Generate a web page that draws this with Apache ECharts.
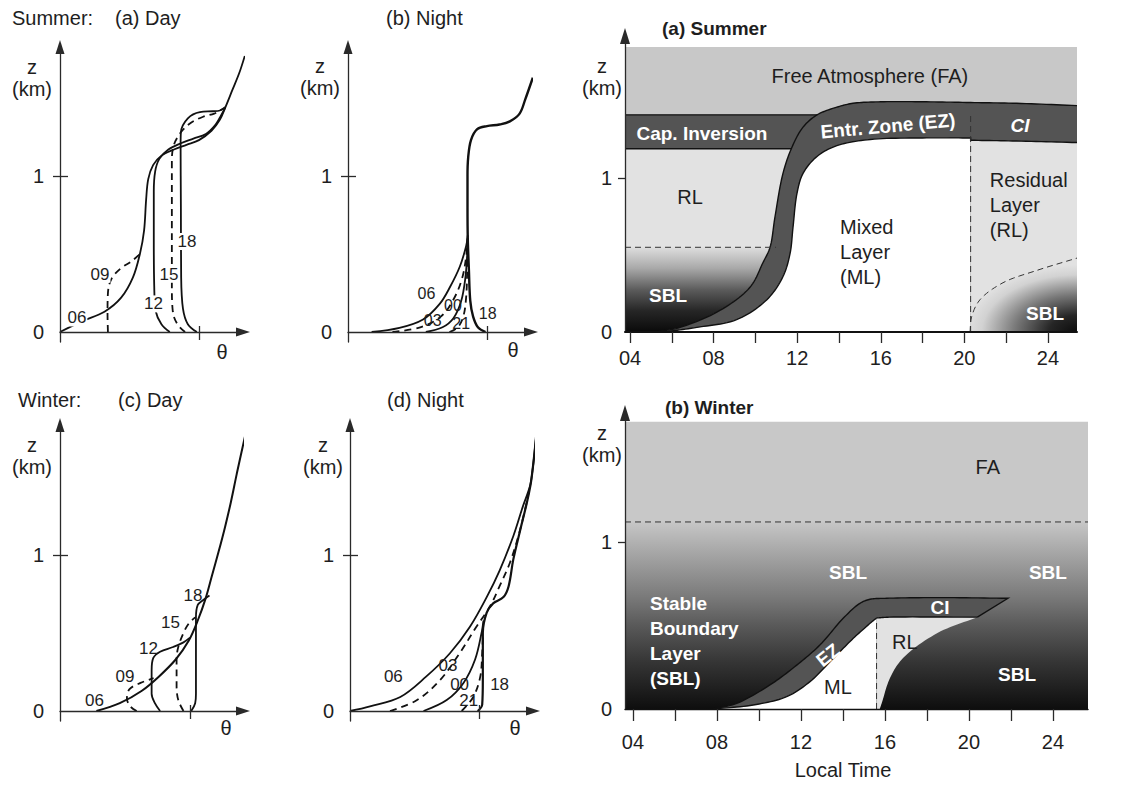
<!DOCTYPE html>
<html>
<head>
<meta charset="utf-8">
<title>Boundary layer evolution</title>
<script src="https://cdn.jsdelivr.net/npm/echarts@6/dist/echarts.min.js"></script>
<style>
  html, body { margin: 0; padding: 0; background: #ffffff; }
  #chart { width: 1128px; height: 792px; }
</style>
</head>
<body>
<div id="chart"></div>
<script>
// ---------------- data ----------------
// Potential-temperature profiles: [theta (arbitrary units, axis tick at 10), z (km)]
const sumDay06 = [[0,0],[1.6,0.07],[3.2,0.13],[4.4,0.22],[5.25,0.35],[5.75,0.5],[6.05,0.65],[6.2,0.85],[6.35,0.98],[6.7,1.07],[7.3,1.13],[8.2,1.17],[9.1,1.2],[10.0,1.23],[10.9,1.29],[11.5,1.36],[11.9,1.44],[12.4,1.55],[12.9,1.66],[13.3,1.77]];
const sumDay09 = [[3.45,0],[3.42,0.12],[3.45,0.25],[3.7,0.34],[4.4,0.41],[5.1,0.45],[5.75,0.5]];
const sumDay12 = [[7.9,0],[7.3,0.05],[6.9,0.13],[6.78,0.3],[6.75,0.6],[6.75,0.9],[6.85,1.03],[7.15,1.11],[7.8,1.17],[8.7,1.21],[9.6,1.24],[10.5,1.27],[11.2,1.33],[11.6,1.39],[11.9,1.44]];
const sumDay15 = [[9.0,0],[8.45,0.05],[8.12,0.13],[8.05,0.3],[8.05,0.7],[8.05,1.1],[8.2,1.2],[8.7,1.28],[9.4,1.34],[10.3,1.38],[11.1,1.4],[11.7,1.43],[11.9,1.44]];
const sumDay18 = [[9.85,0],[9.2,0.05],[8.85,0.15],[8.72,0.35],[8.7,0.8],[8.68,1.2],[8.7,1.28],[9.2,1.37],[10.07,1.41],[11.0,1.415],[11.5,1.42],[11.9,1.44]];
const sumDayLabels = [[1.22,0.09,'06'],[2.88,0.37,'09'],[6.73,0.18,'12'],[7.84,0.37,'15'],[9.14,0.58,'18']];

const sumNight18 = [[9.9,0],[9.35,0.03],[9.0,0.1],[8.8,0.2],[8.7,0.4],[8.62,0.6],[8.6,0.8],[8.6,1.0],[8.65,1.12],[8.85,1.23],[9.3,1.3],[10.0,1.32],[10.9,1.33],[11.65,1.35],[12.35,1.4],[12.75,1.49],[13.3,1.63]];
const sumNight21 = [[7.3,0],[7.9,0.03],[8.3,0.1],[8.5,0.22],[8.58,0.4],[8.62,0.6]];
const sumNight00 = [[5.6,0],[6.8,0.03],[7.6,0.09],[8.15,0.2],[8.45,0.35],[8.58,0.5],[8.62,0.6]];
const sumNight03 = [[3.2,0],[5.2,0.03],[6.7,0.1],[7.6,0.21],[8.2,0.34],[8.5,0.48],[8.62,0.6]];
const sumNight06 = [[1.7,0],[3.7,0.026],[5.4,0.08],[6.6,0.18],[7.35,0.29],[8.05,0.42],[8.5,0.55],[8.62,0.62]];
const sumNightLabels = [[5.64,0.25,'06'],[6.1,0.075,'03'],[7.55,0.168,'00'],[8.15,0.052,'21'],[10.05,0.12,'18']];

const winDay06 = [[2.8,0],[4.6,0.05],[6.3,0.13],[7.6,0.22],[8.9,0.33],[9.9,0.45],[10.6,0.58],[11.2,0.72],[11.7,0.87],[12.2,1.02],[12.7,1.18],[13.15,1.34],[13.6,1.52],[14.1,1.71],[14.5,1.86]];
const winDay09 = [[5.9,0],[5.4,0.03],[5.15,0.08],[5.35,0.14],[6.2,0.18],[7.2,0.21]];
const winDay12 = [[7.7,0],[7.3,0.05],[7.05,0.11],[7.05,0.26],[7.18,0.34],[7.7,0.38],[8.7,0.41],[9.5,0.44],[10.0,0.47]];
const winDay15 = [[9.5,0],[9.1,0.07],[8.97,0.16],[8.97,0.33],[9.1,0.41],[9.5,0.5],[9.9,0.56],[10.4,0.6]];
const winDay18 = [[10.1,0],[10.4,0.05],[10.46,0.11],[10.46,0.43],[10.46,0.6],[10.6,0.68],[11.0,0.71],[11.5,0.74]];
const winDayLabels = [[2.65,0.065,'06'],[5.0,0.22,'09'],[6.8,0.40,'12'],[8.5,0.57,'15'],[10.23,0.74,'18']];

const winNight06 = [[0,0],[1.55,0.03],[3.9,0.09],[5.9,0.22],[7.75,0.37],[9.3,0.54],[10.6,0.73],[11.6,0.9],[12.66,1.12],[13.4,1.31],[13.95,1.44],[14.15,1.54],[14.35,1.69],[14.5,1.82]];
const winNight03 = [[3.1,0],[5.2,0.07],[7.0,0.2],[8.5,0.37],[9.8,0.54],[10.85,0.67],[11.6,0.8],[12.4,0.95],[13.05,1.12],[13.6,1.3],[13.95,1.44]];
const winNight00 = [[5.7,0],[7.5,0.07],[8.8,0.18],[9.7,0.33],[10.2,0.5],[10.35,0.58]];
const winNight21 = [[8.66,0],[9.56,0.09],[10.1,0.22],[10.25,0.37],[10.3,0.48]];
const winNight18 = [[9.9,0],[10.25,0.04],[10.3,0.2],[10.3,0.5],[10.6,0.63],[11.1,0.69],[11.9,0.73],[12.3,0.8],[12.66,0.97],[13.2,1.16],[13.7,1.33],[14.0,1.45],[14.15,1.54],[14.35,1.69],[14.5,1.82]];
const winNightLabels = [[3.36,0.22,'06'],[7.6,0.29,'03'],[8.5,0.17,'00'],[9.2,0.07,'21'],[11.6,0.17,'18']];

const thetaTicks = [10];
const zTicks = [1];
const zLabels = [0, 1];
const timeTicks = [4, 6, 8, 10, 12, 14, 16, 18, 20, 22, 24];
const timeLabels = [4, 8, 12, 16, 20, 24];

// Summer time-height structure: [local time (h), z (km)]
const summerFaTop = 1.85;
const summerCapInversion = [1.19, 1.41];
const summerSblTop = 0.55;
const summerTransition = 20.3;
const summerEzOuter = [[5.2,0],[6.4,0.03],[8.3,0.14],[9.74,0.29],[10.36,0.45],[10.7,0.55],[10.94,0.75],[11.32,1.03],[11.75,1.2],[12.28,1.33],[12.95,1.41],[13.9,1.46],[14.67,1.485],[16,1.495],[18,1.495],[20.3,1.49],[22.5,1.485],[25.39,1.47]];
const summerEzInner = [[5.6,0],[7.2,0.03],[9.1,0.08],[10.55,0.21],[11.32,0.36],[11.66,0.51],[11.8,0.68],[11.99,0.9],[12.28,1.03],[12.95,1.14],[13.9,1.21],[15.5,1.25],[18,1.26],[20.3,1.26]];
const summerCiNight = [[20.3,1.245],[22.5,1.24],[25.39,1.23]];
const summerSblNight = [[20.27,0],[20.35,0.1],[20.75,0.21],[21.85,0.32],[23.47,0.4],[25.39,0.48]];
const summerDarkLabels = [[15.48,1.662,'Free Atmosphere (FA)'],[6.87,0.877,'RL']];
const summerDarkBlocks = [[14.05,0.519,'Mixed\nLayer\n(ML)'],[21.22,0.825,'Residual\nLayer\n(RL)']];
const summerWhiteLabels = [[7.44,1.292,'Cap. Inversion'],[16.34,1.338,'Entr. Zone (EZ)'],[22.66,1.344,'CI'],[5.82,0.234,'SBL'],[23.86,0.123,'SBL']];

// Winter time-height structure
const winterFaTop = 1.72;
const winterSblTop = 1.12;
const winterTransition = 15.6;
const winterEzOuter = [[7.8,0],[8.94,0.034],[10.52,0.144],[11.8,0.263],[12.9,0.383],[14.01,0.543],[14.81,0.633],[15.29,0.657],[16.08,0.663],[18.5,0.667],[21.86,0.663]];
const winterCiBottom = [[15.6,0.545],[16.2,0.55],[20.4,0.55]];
const winterEzInner = [[7.83,0],[9.73,0.024],[11.32,0.074],[12.43,0.164],[13.54,0.303],[14.49,0.423],[15.29,0.513],[15.6,0.545]];
const winterRlEdge = [[20.4,0.55],[18.5,0.455],[16.86,0.305],[16.24,0.186],[15.86,0.04],[15.75,0]];
const winterDarkLabels = [[20.9,1.449,'FA'],[16.95,0.401,'RL'],[13.76,0.132,'ML']];
const winterWhiteLabels = [[14.24,0.82,'SBL'],[23.76,0.82,'SBL'],[22.29,0.204,'SBL'],[18.62,0.605,'CI'],[13.29,0.323,'EZ']];
const winterWhiteBlocks = [[4.81,0.408,'Stable\nBoundary\nLayer\n(SBL)']];

// ---------------- styling ----------------
const FONT = '"Liberation Sans", Arial, Helvetica, sans-serif';
const INK = '#1e1e1e';
const AXIS = '#2a2a2a';
const FA_GREY = '#c8c8c8';
const RL_GREY = '#e2e2e2';
const BAND = '#545454';
const SUMMER_T = [3.76, 25.39];
const WINTER_T = [3.62, 25.67];

const grid = [
  {left: 60, top: 47, width: 183, height: 295},
  {left: 348, top: 47, width: 183, height: 295},
  {left: 60, top: 425, width: 183, height: 296},
  {left: 350, top: 425, width: 183, height: 296},
  {left: 625, top: 36, width: 452, height: 296},
  {left: 625, top: 413, width: 463, height: 296}
];

const xAxis = [], yAxis = [], series = [];

function profileAxes(gi, thetaMax, zMin, zMax) {
  const ls = {color: AXIS, width: 1.3};
  const xi = xAxis.length, yi = yAxis.length;
  xAxis.push({gridIndex: gi, type: 'value', min: 0, max: thetaMax, position: 'bottom', z: 4,
    axisLine: {onZero: true, symbol: ['none', 'triangle'], symbolSize: [9, 14], lineStyle: ls},
    axisTick: {customValues: thetaTicks, length: 8, lineStyle: ls},
    axisLabel: {show: false}, splitLine: {show: false}});
  xAxis.push({gridIndex: gi, type: 'value', min: 0, max: thetaMax, position: 'bottom', z: 4,
    axisLine: {show: false, onZero: true},
    axisTick: {customValues: thetaTicks, inside: true, length: 6, lineStyle: ls},
    axisLabel: {show: false}, splitLine: {show: false}});
  yAxis.push({gridIndex: gi, type: 'value', min: zMin, max: zMax, position: 'left', z: 4,
    axisLine: {onZero: true, symbol: ['none', 'triangle'], symbolSize: [9, 14], lineStyle: ls},
    axisTick: {customValues: zTicks, length: 7, lineStyle: ls},
    axisLabel: {customValues: zLabels, margin: 16, color: INK, fontSize: 20, fontFamily: FONT},
    splitLine: {show: false}});
  yAxis.push({gridIndex: gi, type: 'value', min: zMin, max: zMax, position: 'left', z: 4,
    axisLine: {show: false, onZero: true},
    axisTick: {customValues: zTicks, inside: true, length: 8, lineStyle: ls},
    axisLabel: {show: false}, splitLine: {show: false}});
  return [xi, yi];
}

function timeAxes(gi, tRange, zMax, lineWidth, labelMargin, tickLen) {
  const xi = xAxis.length, yi = yAxis.length;
  xAxis.push({gridIndex: gi, type: 'value', min: tRange[0], max: tRange[1], z: 10,
    axisLine: {onZero: false, lineStyle: {color: '#111', width: lineWidth}},
    axisTick: {customValues: timeTicks, length: tickLen, lineStyle: {color: AXIS, width: 1.3}},
    axisLabel: {customValues: timeLabels, margin: labelMargin, color: INK, fontSize: 20, fontFamily: FONT,
      formatter: v => (v < 10 ? '0' : '') + v},
    splitLine: {show: false}});
  yAxis.push({gridIndex: gi, type: 'value', min: 0, max: zMax, z: 10,
    axisLine: {onZero: false, symbol: ['none', 'triangle'], symbolSize: [10, 16], lineStyle: {color: AXIS, width: 1.3}},
    axisTick: {customValues: zTicks, length: 7, lineStyle: {color: AXIS, width: 1.3}},
    axisLabel: {customValues: zLabels, margin: 13, color: INK, fontSize: 20, fontFamily: FONT},
    splitLine: {show: false}});
  return [xi, yi];
}

function profile(axes, pts, dashed, width) {
  series.push({type: 'line', xAxisIndex: axes[0], yAxisIndex: axes[1], data: pts,
    smooth: 0.35, showSymbol: false, symbol: 'none', silent: true, animation: false, clip: false, z: 3,
    lineStyle: {color: '#111', width: width || 1.8, type: dashed ? [7, 5] : 'solid'}});
}

function textSeries(axes, items, base, extra) {
  series.push({type: 'custom', xAxisIndex: axes[0], yAxisIndex: axes[1], z: 6, silent: true,
    animation: false, clip: false,
    data: items.map(d => [d[0], d[1]]),
    renderItem: (params, api) => {
      const d = items[params.dataIndex];
      const p = api.coord([d[0], d[1]]);
      const s = Object.assign({}, base, extra ? extra(d) : null);
      return {type: 'text', x: p[0], y: p[1], rotation: s.rotation || 0,
        style: {text: d[2], fill: s.color, fontSize: s.size, fontFamily: FONT,
          fontWeight: s.weight || 'normal', fontStyle: s.italic ? 'italic' : 'normal',
          align: s.align || 'center', verticalAlign: 'middle', lineHeight: s.lineHeight,
          backgroundColor: s.bg, padding: s.pad}};
    }});
}

// centripetal Catmull-Rom through pixel points, for drawing smooth region edges
function smoothPx(px, steps) {
  steps = steps || 12;
  const n = px.length;
  if (n < 3) return px.map(p => p.slice());
  const ext = [[2 * px[0][0] - px[1][0], 2 * px[0][1] - px[1][1]]].concat(px,
    [[2 * px[n - 1][0] - px[n - 2][0], 2 * px[n - 1][1] - px[n - 2][1]]]);
  const dist = (a, b) => Math.max(Math.pow(Math.hypot(b[0] - a[0], b[1] - a[1]), 0.5), 1e-4);
  const out = [];
  for (let i = 1; i < ext.length - 2; i++) {
    const p0 = ext[i - 1], p1 = ext[i], p2 = ext[i + 1], p3 = ext[i + 2];
    const t0 = 0, t1 = t0 + dist(p0, p1), t2 = t1 + dist(p1, p2), t3 = t2 + dist(p2, p3);
    for (let s = 0; s < steps; s++) {
      const t = t1 + (t2 - t1) * s / steps;
      const L = (a, b, ta, tb) => [0, 1].map(k => ((tb - t) * a[k] + (t - ta) * b[k]) / (tb - ta));
      const A1 = L(p0, p1, t0, t1), A2 = L(p1, p2, t1, t2), A3 = L(p2, p3, t2, t3);
      const B1 = L(A1, A2, t0, t2), B2 = L(A2, A3, t1, t3);
      out.push(L(B1, B2, t1, t2));
    }
  }
  out.push(px[n - 1].slice());
  return out;
}
// part of a rising edge below a pixel level (ends on the level)
function belowLevel(pts, yPx) {
  const out = [];
  for (let i = 0; i < pts.length; i++) {
    const p = pts[i];
    if (p[1] >= yPx) { out.push(p); continue; }
    const q = pts[i - 1], f = (yPx - q[1]) / (p[1] - q[1]);
    out.push([q[0] + f * (p[0] - q[0]), yPx]);
    break;
  }
  return out;
}
// part of a rising edge above a pixel level (starts on the level)
function aboveLevel(pts, yPx) {
  for (let i = 1; i < pts.length; i++) {
    if (pts[i][1] < yPx) {
      const q = pts[i - 1], p = pts[i], f = (yPx - q[1]) / (p[1] - q[1]);
      return [[q[0] + f * (p[0] - q[0]), yPx]].concat(pts.slice(i));
    }
  }
  return [];
}
const poly = (points, style) => ({type: 'polygon', shape: {points}, style});
const line = (points, style) => ({type: 'polyline', shape: {points}, style: Object.assign({fill: 'none'}, style)});
const EDGE = {stroke: '#111', lineWidth: 1.4};
const DASH = {stroke: '#333', lineWidth: 1, lineDash: [6, 4]};
const vGrad = stops => new echarts.graphic.LinearGradient(0, 0, 0, 1,
  stops.map(s => ({offset: s[0], color: s[1]})));

function regionSeries(axes, tRange, draw) {
  series.push({type: 'custom', xAxisIndex: axes[0], yAxisIndex: axes[1], z: 1, silent: true,
    animation: false, clip: false, data: [[tRange[0], 0]],
    renderItem: (params, api) => ({type: 'group', children: draw(api)})});
}

function summerShapes(api) {
  const c = p => api.coord(p);
  const [t0, t1] = SUMMER_T;
  const [ciBot, ciTop] = summerCapInversion;
  const yOf = z => c([t0, z])[1];
  const outer = smoothPx(summerEzOuter.map(c));
  const inner = smoothPx(summerEzInner.map(c));
  const ciN = smoothPx(summerCiNight.map(c));
  const sblN = smoothPx(summerSblNight.map(c));
  const upper = aboveLevel(outer, yOf(ciTop));
  const underCi = belowLevel(outer, yOf(ciBot));
  const underSbl = belowLevel(outer, yOf(summerSblTop));
  const base0 = c([t0, 0]), base1 = c([t1, 0]);
  const sblEnd = underSbl[underSbl.length - 1];
  // night-time SBL: elliptical shading toward the lower right corner
  const squash = 0.6;
  const sblLocal = sblN.concat([base1]).map(p => [p[0], base1[1] + (p[1] - base1[1]) / squash]);
  const radial = new echarts.graphic.RadialGradient(base1[0], base1[1], 112, [
    {offset: 0, color: '#0c0c0c'}, {offset: 0.25, color: '#262626'},
    {offset: 0.55, color: '#777777'}, {offset: 0.85, color: '#d2d2d2'}, {offset: 1, color: RL_GREY}], true);
  return [
    poly([base0, base1, c([t1, summerFaTop]), c([t0, summerFaTop])], {fill: FA_GREY}),
    poly([c([t0, ciTop])].concat(upper, [base1, base0]), {fill: BAND}),
    poly([base0].concat(underCi, [c([t0, ciBot])]), {fill: RL_GREY}),
    poly([base0].concat(underSbl, [c([t0, summerSblTop])]), {fill: vGrad([
      [0, '#dedede'], [0.25, '#a8a8a8'], [0.5, '#5c5c5c'], [0.75, '#262626'], [1, '#0a0a0a']])}),
    poly(inner.concat([c([summerTransition, 0])]), {fill: '#ffffff'}),
    poly([c([summerTransition, 0])].concat(ciN, [base1]), {fill: RL_GREY}),
    {type: 'polygon', shape: {points: sblLocal}, originX: base1[0], originY: base1[1], scaleY: squash,
      style: {fill: radial}},
    line(outer, EDGE),
    line([c([t0, ciTop]), upper[0]], EDGE),
    line([c([t0, ciBot]), underCi[underCi.length - 1]], EDGE),
    line(inner.concat(ciN), EDGE),
    line([c([t0, summerSblTop]), [sblEnd[0] + 6, sblEnd[1]]], DASH),
    line([c([summerTransition, 0]), c([summerTransition, ciTop])], DASH),
    line(sblN, DASH)
  ];
}

function winterShapes(api) {
  const c = p => api.coord(p);
  const [t0, t1] = WINTER_T;
  const outer = smoothPx(winterEzOuter.map(c));
  const inner = smoothPx(winterEzInner.map(c));
  const ciB = smoothPx(winterCiBottom.map(c));
  const rl = smoothPx(winterRlEdge.map(c));
  const base0 = c([t0, 0]), base1 = c([t1, 0]);
  return [
    poly([c([t0, winterSblTop]), c([t1, winterSblTop]), c([t1, winterFaTop]), c([t0, winterFaTop])], {fill: FA_GREY}),
    poly([base0, base1, c([t1, winterSblTop]), c([t0, winterSblTop])], {fill: vGrad([
      [0, '#c6c6c6'], [0.15, '#a9a9a9'], [0.4, '#7a7a7a'], [0.55, '#5a5a5a'], [0.75, '#353535'], [1, '#0e0e0e']])}),
    poly(outer.concat(ciB.slice().reverse(), inner.slice().reverse()), {fill: BAND}),
    poly(inner.concat([c([winterTransition, 0])]), {fill: '#ffffff'}),
    poly([c([winterTransition, 0])].concat(ciB, rl), {fill: RL_GREY}),
    line(outer.concat([ciB[ciB.length - 1]]), EDGE),
    line(ciB, EDGE),
    line(inner, EDGE),
    line([c([winterTransition, 0]), c(winterCiBottom[0])], DASH),
    line([c([t0, winterSblTop]), c([t1, winterSblTop])], DASH)
  ];
}

// ---------------- panels ----------------
const pa = profileAxes(0, 13.17, -0.0641, 1.827);
const pb = profileAxes(1, 13.17, -0.0641, 1.827);
const pc = profileAxes(2, 14.08, -0.0641, 1.833);
const pd = profileAxes(3, 14.19, -0.0641, 1.833);
const ps = timeAxes(4, SUMMER_T, 1.922, 2, 16, 11);
const pw = timeAxes(5, WINTER_T, 1.7725, 1.4, 23, 12);

profile(pa, sumDay06, false); profile(pa, sumDay09, true); profile(pa, sumDay12, false);
profile(pa, sumDay15, true); profile(pa, sumDay18, false);
profile(pb, sumNight06, false); profile(pb, sumNight03, true); profile(pb, sumNight00, false);
profile(pb, sumNight21, true); profile(pb, sumNight18, false, 2.4);
profile(pc, winDay06, false, 2); profile(pc, winDay09, true); profile(pc, winDay12, false);
profile(pc, winDay15, true); profile(pc, winDay18, false);
profile(pd, winNight06, false); profile(pd, winNight03, true); profile(pd, winNight00, false);
profile(pd, winNight21, true); profile(pd, winNight18, false, 2.2);

const hourStyle = {color: INK, size: 17};
textSeries(pa, sumDayLabels, Object.assign({bg: '#ffffff', pad: [0, 1]}, hourStyle));
textSeries(pb, sumNightLabels, {color: INK, size: 16});
textSeries(pc, winDayLabels, hourStyle);
textSeries(pd, winNightLabels, hourStyle);

regionSeries(ps, SUMMER_T, summerShapes);
regionSeries(pw, WINTER_T, winterShapes);

textSeries(ps, summerDarkLabels, {color: INK, size: 20});
textSeries(ps, summerDarkBlocks, {color: INK, size: 20, align: 'left', lineHeight: 25});
textSeries(ps, summerWhiteLabels, {color: '#ffffff', size: 19, weight: 'bold'},
  d => d[2] === 'Entr. Zone (EZ)' ? {rotation: 0.09} : d[2] === 'CI' ? {italic: true} : null);
textSeries(pw, winterDarkLabels, {color: INK, size: 20});
textSeries(pw, winterWhiteLabels, {color: '#ffffff', size: 19, weight: 'bold'},
  d => d[2] === 'EZ' ? {rotation: 0.68} : null);
textSeries(pw, winterWhiteBlocks, {color: '#ffffff', size: 19, weight: 'bold', align: 'left', lineHeight: 25});

// ---------------- captions ----------------
function caption(text, x, y, align, size, weight, lineHeight) {
  return {text, left: x, top: y, textAlign: align, textVerticalAlign: 'middle', padding: 0, itemGap: 0,
    textStyle: {fontFamily: FONT, fontSize: size, fontWeight: weight || 'normal', color: INK, lineHeight: lineHeight}};
}
const title = [
  caption('Summer:', 12, 18, 'left', 20),
  caption('(a) Day', 115, 18, 'left', 20),
  caption('(b) Night', 386, 18, 'left', 20),
  caption('Winter:', 18, 400, 'left', 20),
  caption('(c) Day', 118, 400, 'left', 20),
  caption('(d) Night', 387, 400, 'left', 20),
  caption('(a) Summer', 662, 28, 'left', 19, 'bold'),
  caption('(b) Winter', 665, 407, 'left', 19, 'bold'),
  caption('z\n(km)', 32, 78, 'center', 20, 'normal', 22),
  caption('z\n(km)', 320, 77, 'center', 20, 'normal', 22),
  caption('z\n(km)', 32, 456, 'center', 20, 'normal', 22),
  caption('z\n(km)', 323, 456, 'center', 20, 'normal', 22),
  caption('z\n(km)', 602, 77, 'center', 20, 'normal', 22),
  caption('z\n(km)', 602, 444, 'center', 20, 'normal', 22),
  caption('θ', 222, 352, 'center', 20),
  caption('θ', 513, 350, 'center', 20),
  caption('θ', 226, 728, 'center', 20),
  caption('θ', 515, 728, 'center', 20),
  caption('Local Time', 843, 770, 'center', 20)
];

const chart = echarts.init(document.getElementById('chart'), null, {renderer: 'svg'});
chart.setOption({animation: false, backgroundColor: '#ffffff', title, grid, xAxis, yAxis, series});
</script>
</body>
</html>
